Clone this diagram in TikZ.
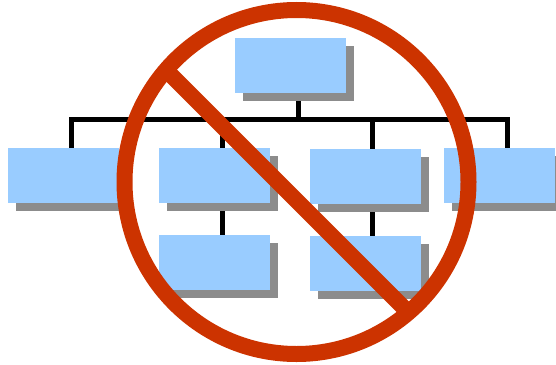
\documentclass[tikz,border=0pt]{standalone}
\usetikzlibrary{backgrounds}
\definecolor{boxblue}{HTML}{99CCFF}
\definecolor{shadowgray}{HTML}{8C8C8C}
\definecolor{banred}{HTML}{CC3300}
\tikzset{
  orgbox/.style={fill=boxblue,draw=none,anchor=north west,inner sep=0pt,outer sep=0pt,minimum width=111pt,minimum height=55pt},
  orgshadow/.style={fill=shadowgray,draw=none,anchor=north west,inner sep=0pt,outer sep=0pt,minimum width=111pt,minimum height=55pt},
  orgline/.style={draw=black,line width=5pt,line join=miter},
  banring/.style={draw=banred,line width=16pt},
  banbar/.style={draw=banred,line width=16pt,line cap=butt}
}
\begin{document}
\begin{tikzpicture}[x=1pt,y=-1pt]
\useasboundingbox (0,0) rectangle (556,364);
% shadows
\node[orgshadow] (stop) at (243,46) {};
\node[orgshadow] (sa) at (16,156) {};
\node[orgshadow] (sb) at (167,156) {};
\node[orgshadow] (sc) at (318,157) {};
\node[orgshadow] (sd) at (452,156) {};
\node[orgshadow] (se) at (167,243) {};
\node[orgshadow] (sf) at (318,244) {};
% boxes
\node[orgbox] (top) at (235,38) {};
\node[orgbox] (a) at (8,148) {};
\node[orgbox] (b) at (159,148) {};
\node[orgbox] (c) at (310,149) {};
\node[orgbox] (d) at (444,148) {};
\node[orgbox] (e) at (159,235) {};
\node[orgbox] (f) at (310,236) {};
% connectors
\coordinate (bus) at (299,119.3);
\begin{scope}[on background layer]
\draw[orgline] ([xshift=0pt]a.north -| sa.north) |- (bus) -| (sd.north);
\draw[orgline] (stop.south) -- (stop.south |- bus);
\draw[orgline] (sb.north) -- (sb.north |- bus);
\draw[orgline] ([xshift=-1pt]sc.north) -- ([xshift=-1pt]sc.north |- bus);
\draw[orgline] (sb.south) -- (e.north -| sb.south);
\draw[orgline] ([xshift=-1pt]sc.south) -- ([xshift=-1pt]f.north -| sc.south);
\end{scope}
% prohibition sign
\node[draw=none,inner sep=0pt,outer sep=0pt,minimum size=0pt] (ring) at (296.5,182) {};
\draw[banring] (ring) circle[radius=172pt];
\coordinate (barstart) at (164,68);
\coordinate (barend) at (408,312);
\draw[banbar] (barstart) -- (barend);
\end{tikzpicture}
\end{document}
